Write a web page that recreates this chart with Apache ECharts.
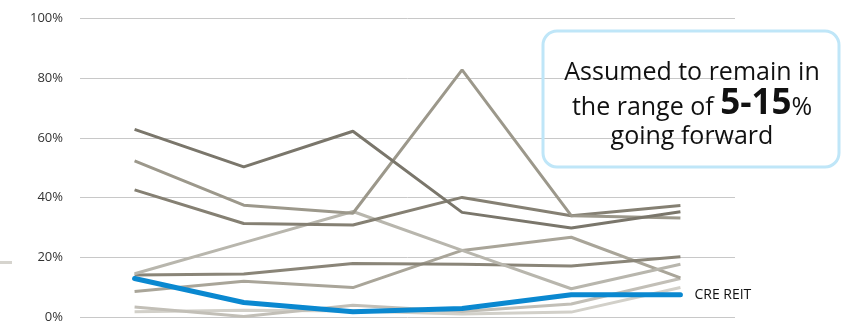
<!DOCTYPE html>
<html>
<head>
<meta charset="utf-8">
<script src="https://cdn.jsdelivr.net/npm/echarts@6/dist/echarts.min.js"></script>
<style>html,body{margin:0;padding:0;background:#fff;}#c{width:851px;height:324px;}</style>
</head>
<body>
<div id="c"></div>
<script>
var categories = ['P1', 'P2', 'P3', 'P4', 'P5', 'P6'];
var yTicks = [0, 20, 40, 60, 80, 100];
var seriesA = [62.8, 50.3, 62.2, 35.1, 29.9, 35.3];
var seriesB = [52.3, 37.5, 34.8, 82.7, 34.0, 33.2];
var seriesC = [42.6, 31.4, 30.9, 40.1, 34.0, 37.4];
var seriesD = [14.6, 25.0, 35.4, 22.4, 9.6, 17.8];
var seriesE = [14.2, 14.5, 18.0, 17.8, 17.2, 20.3];
var seriesF = [8.7, 12.1, 10.0, 22.4, 26.8, 13.2];
var seriesG = [3.5, 0.3, 4.1, 2.0, 4.5, 13.0];
var seriesH = [1.9, 2.4, 2.2, 1.2, 1.8, 10.0];
var creReit = [13.0, 5.0, 1.9, 3.0, 7.6, 7.6];
var creLabel = 'CRE REIT';

var grays = [
  {d: seriesH, c: '#d2d0c9'},
  {d: seriesG, c: '#c2bfb7'},
  {d: seriesF, c: '#a9a599'},
  {d: seriesE, c: '#8a8578'},
  {d: seriesD, c: '#b8b6ad'},
  {d: seriesC, c: '#858073'},
  {d: seriesB, c: '#9c988b'},
  {d: seriesA, c: '#7a766b'}
];
var series = grays.map(function (g) {
  return {type: 'line', data: g.d, symbol: 'none', lineStyle: {color: g.c, width: 3}, silent: true, z: 2};
});
series.push({
  type: 'line', data: creReit, symbol: 'none', z: 5,
  lineStyle: {color: '#0a88d0', width: 5, cap: 'round'},
  endLabel: {show: true, formatter: creLabel, color: '#111', fontSize: 14, fontFamily: 'Open Sans', distance: 14}
});

var chart = echarts.init(document.getElementById('c'));
chart.setOption({
  animation: false,
  grid: {left: 80, right: 116, top: 18, bottom: 5},
  xAxis: {type: 'category', data: categories, boundaryGap: true,
    axisLine: {show: false}, axisTick: {show: false}, axisLabel: {show: false}},
  yAxis: {type: 'value', min: yTicks[0], max: yTicks[yTicks.length - 1], interval: 20,
    axisLine: {show: false}, axisTick: {show: false},
    axisLabel: {formatter: '{value}%', color: '#333', fontSize: 13, fontFamily: 'Open Sans', margin: 17},
    splitLine: {lineStyle: {color: '#c8c8c8', width: 1}}},
  series: series,
  graphic: [
    {type: 'rect', left: 0, top: 261, shape: {width: 12, height: 3}, style: {fill: '#d6d4ce'}},
    {type: 'rect', shape: {x: 543, y: 31, width: 296, height: 136, r: 14},
      style: {fill: 'none', stroke: '#bfe6f8', lineWidth: 3}, z: 10},
    {type: 'text', z: 11,
      style: {x: 692, y: 73, text: 'Assumed to remain in', fill: '#111', font: '25px "Open Sans"', textAlign: 'center', textVerticalAlign: 'middle'}},
    {type: 'text', z: 11,
      style: {x: 692, y: 104, text: '{n|the range of }{b|5-15}{n|%}', fill: '#111', textAlign: 'center', textVerticalAlign: 'middle',
        rich: {n: {fontSize: 25, fontFamily: 'Open Sans', fill: '#111', verticalAlign: 'bottom', padding: [0, 0, 1, 0]},
               b: {fontSize: 35, fontWeight: 'bold', fontFamily: 'Open Sans', fill: '#111', verticalAlign: 'bottom'}}}},
    {type: 'text', z: 11,
      style: {x: 692, y: 137, text: 'going forward', fill: '#111', font: '25px "Open Sans"', textAlign: 'center', textVerticalAlign: 'middle'}}
  ]
});
</script>
</body>
</html>
